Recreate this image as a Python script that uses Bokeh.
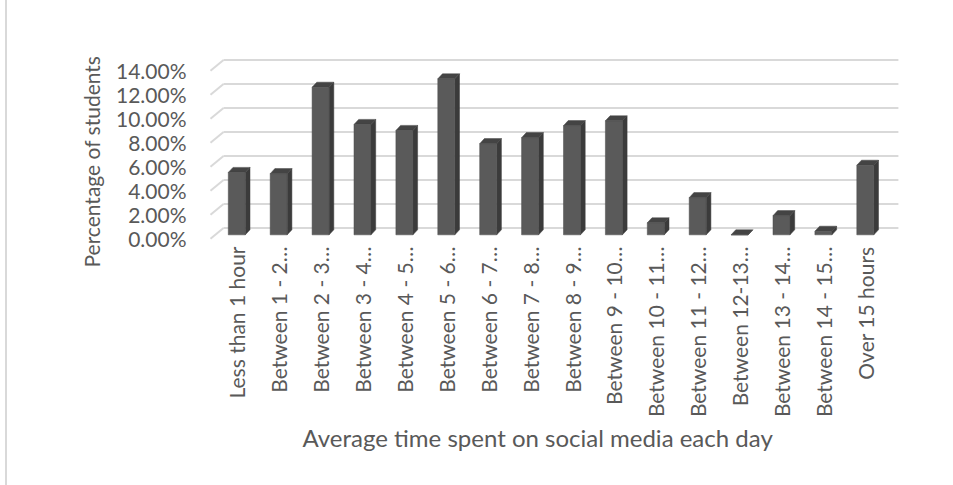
import math
from bokeh.plotting import figure
from bokeh.models import FixedTicker, PrintfTickFormatter, Range1d, Title, InlineStyleSheet
from bokeh.embed import file_html
from bokeh.resources import INLINE

categories = [
    "Less than 1 hour", "Between 1 - 2\u2026", "Between 2 - 3\u2026", "Between 3 - 4\u2026",
    "Between 4 - 5\u2026", "Between 5 - 6\u2026", "Between 6 - 7\u2026", "Between 7 - 8\u2026",
    "Between 8 - 9\u2026", "Between 9 - 10\u2026", "Between 10 - 11\u2026", "Between 11 - 12\u2026",
    "Between 12-13\u2026", "Between 13 - 14\u2026", "Between 14 - 15\u2026", "Over 15 hours",
]
percent_students = [5.2, 5.1, 12.3, 9.2, 8.7, 13.0, 7.6, 8.1, 9.1, 9.5, 1.0, 3.1, 0.0, 1.6, 0.3, 5.8]
y_ticks = [0, 2, 4, 6, 8, 10, 12, 14]

TEXT = "#595959"
FONT = "Lato"

# 3-D look (data units)
HALF_W = 0.203
DX = 0.112
DY = 0.42
Y0 = 0.33
WALL_DX_FRONT = -0.628
WALL_DX_BACK = -0.317
WALL_DY = 0.9
WALL_RIGHT = 15.79

p = figure(width=953, height=485, output_backend="svg", toolbar_location=None,
           x_range=Range1d(-0.747, 15.84), y_range=Range1d(-0.142, 15.69),
           min_border_left=205, min_border_right=53, min_border_top=50, min_border_bottom=245)
p.outline_line_color = None
p.xgrid.visible = False
p.ygrid.visible = False
p.background_fill_color = "white"
p.border_fill_color = "white"

# gridlines (back wall + left diagonal)
p.segment(x0=[WALL_DX_BACK] * len(y_ticks), x1=[WALL_RIGHT] * len(y_ticks),
          y0=[v + WALL_DY for v in y_ticks], y1=[v + WALL_DY for v in y_ticks],
          line_color="#d9d9d9", line_width=2)
p.segment(x0=[WALL_DX_FRONT] * len(y_ticks), x1=[WALL_DX_BACK] * len(y_ticks),
          y0=y_ticks, y1=[v + WALL_DY for v in y_ticks],
          line_color="#d9d9d9", line_width=2)

idx = list(range(len(categories)))
# side faces
side_xs = [[i + HALF_W, i + HALF_W, i + HALF_W + DX, i + HALF_W + DX] for i in idx]
side_ys = [[Y0, v + Y0, v + Y0 + DY, Y0 + DY] for v in percent_students]
p.patches(side_xs, side_ys, fill_color="#3b3b3b", line_color="#3b3b3b", line_width=0.5)
# top faces
top_xs = [[i - HALF_W, i + HALF_W, i + HALF_W + DX, i - HALF_W + DX] for i in idx]
top_ys = [[v + Y0, v + Y0, v + Y0 + DY, v + Y0 + DY] for v in percent_students]
p.patches(top_xs, top_ys, fill_color="#444444", line_color="#444444", line_width=0.5)
# front faces
p.vbar(x=idx, width=2 * HALF_W, bottom=Y0, top=[v + Y0 for v in percent_students],
       fill_color="#5a5a5a", line_color="#4a4a4a", line_width=0.5)

# axes
p.yaxis.ticker = FixedTicker(ticks=y_ticks)
p.yaxis.formatter = PrintfTickFormatter(format="%.2f%%")
p.yaxis.axis_line_color = None
p.yaxis.major_tick_line_color = None
p.yaxis.minor_tick_line_color = None
p.yaxis.major_label_standoff = 13
p.yaxis.major_label_text_font = FONT
p.yaxis.major_label_text_font_size = "21px"
p.yaxis.major_label_text_color = TEXT

# y-axis title
p.add_layout(Title(text="Percentage of students", align="left", offset=-27, standoff=18,
                   text_font=FONT, text_font_size="21px", text_font_style="normal",
                   text_color=TEXT), "left")

p.xaxis.ticker = FixedTicker(ticks=idx)
p.xaxis.major_label_overrides = {i: c for i, c in zip(idx, categories)}
p.xaxis.major_label_orientation = math.pi / 2
p.xaxis.axis_line_color = None
p.xaxis.major_tick_line_color = None
p.xaxis.minor_tick_line_color = None
p.xaxis.major_label_standoff = 0
p.xaxis.major_label_text_font = FONT
p.xaxis.major_label_text_font_size = "21px"
p.xaxis.major_label_text_color = TEXT

# x-axis title
p.add_layout(Title(text="Average time spent on social media each day", align="left",
                   offset=97, standoff=0,
                   text_font=FONT, text_font_size="24px", text_font_style="normal",
                   text_color=TEXT), "below")

# chart-area border on the left edge
p.stylesheets = [InlineStyleSheet(css=(
    ":host::after { content: ''; position: absolute; left: 5px; top: 0px; "
    "width: 2px; height: 485px; background: #d9d9d9; pointer-events: none; }"))]

open("out.html", "w").write(file_html(p, INLINE))
